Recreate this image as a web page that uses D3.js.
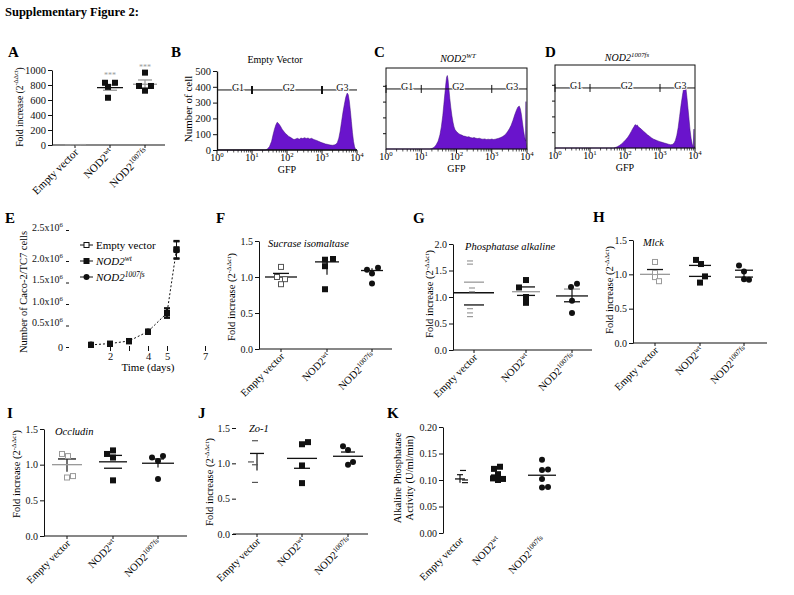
<!DOCTYPE html>
<html><head><meta charset="utf-8">
<script src="https://cdn.jsdelivr.net/npm/d3@7"></script>
<style>body{margin:0;background:#fff;}svg{display:block;}</style>
</head><body>
<svg id="fig" width="794" height="595"></svg>
<script>
// ================= DATA =================
const catBase = ["Empty vector", "NOD2", "NOD2"];
const catSup  = ["", "wt", "1007fs"];

// Panel A (fold increase)
const aTicks = [0, 200, 400, 600, 800, 1000];
const aPts  = [[2, 5, 3, 6], [830, 830, 775, 630], [965, 787, 787, 724]];
const aMean = [4, 765, 810];
const aLo   = [2, 730, 756];
const aHi   = [6, 800, 867];
const aStars = [null, 933, 1044];

// Panels B-D (flow cytometry histograms: [log10 GFP, count])
const flowTicks = [0, 100, 200, 300, 400, 500];
const flowDecades = [0, 1, 2, 3, 4];
const gateNames = ["G1", "G2", "G3"];
const gateLevel = 380;
const histB = [[0,0],[1.38,0],[1.44,6],[1.5,22],[1.56,55],[1.6,95],[1.64,130],[1.68,158],[1.72,176],[1.75,170],[1.78,162],[1.82,148],[1.86,132],[1.9,120],[1.95,106],[2.0,96],[2.05,86],[2.1,80],[2.15,72],[2.2,66],[2.25,70],[2.3,74],[2.35,68],[2.4,76],[2.45,72],[2.5,78],[2.55,73],[2.6,76],[2.65,70],[2.7,74],[2.75,68],[2.8,64],[2.85,60],[2.9,55],[2.95,50],[3.0,46],[3.05,42],[3.1,38],[3.15,36],[3.2,33],[3.25,31],[3.3,30],[3.35,32],[3.4,36],[3.44,48],[3.48,75],[3.52,120],[3.56,180],[3.6,240],[3.64,290],[3.68,335],[3.72,360],[3.75,350],[3.78,310],[3.81,250],[3.84,180],[3.87,110],[3.9,55],[3.93,20],[3.96,4],[4,0]];
const histC = [[0,0],[1.25,0],[1.3,3],[1.36,10],[1.42,25],[1.48,50],[1.53,90],[1.57,140],[1.61,210],[1.64,280],[1.67,350],[1.7,420],[1.72,455],[1.74,465],[1.76,440],[1.78,390],[1.81,320],[1.84,260],[1.87,210],[1.9,170],[1.93,140],[1.96,122],[2.0,110],[2.05,100],[2.1,92],[2.15,88],[2.2,82],[2.25,80],[2.3,76],[2.35,78],[2.4,72],[2.45,70],[2.5,72],[2.55,68],[2.6,66],[2.65,68],[2.7,64],[2.75,62],[2.8,64],[2.85,60],[2.9,62],[2.95,60],[3.0,63],[3.05,60],[3.1,62],[3.15,65],[3.2,68],[3.25,72],[3.3,78],[3.35,85],[3.4,95],[3.45,110],[3.5,128],[3.55,150],[3.6,180],[3.65,215],[3.7,245],[3.74,265],[3.78,272],[3.81,255],[3.84,220],[3.87,170],[3.9,120],[3.93,80],[3.96,50],[3.97,300],[3.98,40],[3.99,10],[4,0]];
const histD = [[0,0],[1.68,0],[1.72,3],[1.78,8],[1.84,16],[1.9,26],[1.96,38],[2.02,52],[2.08,68],[2.13,85],[2.18,105],[2.22,122],[2.26,136],[2.29,148],[2.32,142],[2.35,146],[2.38,134],[2.42,128],[2.47,118],[2.52,108],[2.58,96],[2.64,84],[2.7,74],[2.76,64],[2.82,56],[2.88,50],[2.94,45],[3.0,40],[3.06,36],[3.12,32],[3.18,28],[3.24,24],[3.3,21],[3.35,22],[3.4,30],[3.44,48],[3.48,80],[3.52,130],[3.56,200],[3.6,270],[3.64,330],[3.68,385],[3.71,410],[3.74,380],[3.77,320],[3.8,250],[3.83,180],[3.86,110],[3.89,60],[3.92,25],[3.95,8],[3.97,120],[3.98,15],[4,0]];

// Panel E (growth, x10^6 cells)
const eDays  = [1, 2, 3, 4, 5, 5.5];
const eEmpty = [0.05, 0.07, 0.13, 0.35, 0.78, 2.18];
const eWT    = [0.05, 0.08, 0.14, 0.36, 0.79, 2.19];
const eFS    = [0.06, 0.07, 0.14, 0.36, 0.80, 2.17];
const eErr   = [0.02, 0.02, 0.03, 0.03, 0.11, 0.14];
const eTicks = [0, 0.5, 1.0, 1.5, 2.0, 2.5];
const eDayTicks  = [2, 3, 4, 5, 7];
const eDayLabels = [2, 4, 5, 7];
const eLegend = [["Empty vector", ""], ["NOD2", "wt"], ["NOD2", "1007fs"]];

// Panel F  Sucrase isomaltase
const foldTicks = [0, 0.5, 1.0, 1.5];
const fPts  = [[1.14, 1.0, 0.97, 0.9], [1.24, 1.25, 1.15, 0.83], [1.10, 1.13, 1.05, 0.91]];
const fMean = [1.0, 1.21, 1.09];
const fLo   = [0.96, 1.03, 1.04];
const fHi   = [1.05, 1.21, 1.12];
// Panel G  Phosphatase alkaline
const gTicks = [0, 0.5, 1.0, 1.5, 2.0];
const gPts  = [[1.68, 1.62, 1.17, 1.1, 0.78, 0.7, 0.63], [1.18, 1.32, 1.0, 0.89], [1.19, 1.25, 0.93, 0.7]];
const gMean = [1.08, 1.1, 1.02];
const gLo   = [0.85, 1.03, 0.91];
const gHi   = [1.28, 1.19, 1.15];
// Panel H  Mlck
const hPts  = [[1.18, 1.02, 0.96, 0.9], [1.21, 1.15, 0.97, 0.88], [1.13, 1.04, 0.93, 0.92]];
const hMean = [1.0, 1.13, 1.06];
const hLo   = [0.93, 0.97, 0.96];
const hHi   = [1.07, 1.13, 1.06];
// Panel I  Occludin
const iPts  = [[1.15, 1.12, 0.82, 0.84], [1.2, 1.15, 1.1, 0.78], [1.1, 1.12, 1.05, 0.8]];
const iMean = [1.0, 1.04, 1.02];
const iLo   = [0.9, 0.95, 0.96];
const iHi   = [1.08, 1.13, 1.08];
// Panel J  Zo-1
const jPts  = [[1.32, 1.02, 0.98, 0.73], [1.27, 1.3, 0.97, 0.72], [1.24, 1.19, 1.02, 0.98]];
const jMean = [1.14, 1.07, 1.1];
const jLo   = [0.9, 0.93, 1.1];
const jHi   = [1.14, 1.07, 1.16];
// Panel K  Alkaline phosphatase activity
const kTicks = [0, 0.05, 0.10, 0.15, 0.20];
const kPts  = [[0.118, 0.11, 0.1, 0.095], [0.121, 0.125, 0.105, 0.111, 0.102, 0.1, 0.103], [0.138, 0.119, 0.12, 0.102, 0.086, 0.087]];
const kMean = [0.102, 0.11, 0.109];
const kLo   = [0.095, 0.1, 0.1];
const kHi   = [0.11, 0.12, 0.12];

// ================= DRAWING =================
const svg = d3.select("#fig");
const FONT = "'Liberation Serif','Times New Roman',serif";
const INK = "#111", GRAY = "#9a9a9a", DGRAY = "#555", PURPLE = "#6a14cc";
svg.attr("font-family", FONT);

function rich(sel, parts, fs) {
  let cur = 0;
  parts.forEach(p => {
    const target = p.sup ? -fs * 0.38 : 0;
    const ts = sel.append("tspan").attr("dy", target - cur).text(p.t);
    if (p.sup) ts.attr("font-size", fs * 0.68);
    if (p.it) ts.attr("font-style", "italic");
    cur = target;
  });
}
function catParts(i, it) {
  const parts = [{t: catBase[i], it: it && i > 0}];
  if (catSup[i]) parts.push({t: catSup[i], sup: true, it: it});
  return parts;
}
const foldParts = [{t: "Fold increase (2"}, {t: "-ΔΔct", sup: true}, {t: ")"}];

// Title + panel letters
svg.append("text").attr("x", 5).attr("y", 16).attr("font-size", 12.5).attr("font-weight", "bold").text("Supplementary Figure 2:");
const letters = [["A",8,57],["B",171,57],["C",374,57],["D",545,57],["E",5,223],["F",216,223],["G",413,223],["H",593,222],["I",7,418],["J",198,418],["K",387,418]];
svg.selectAll(".plet").data(letters).join("text").attr("class","plet")
  .attr("x", d => d[1]).attr("y", d => d[2]).attr("font-size", 15).attr("font-weight", "bold").text(d => d[0]);

function yLabel(x, cy, parts, fs) {
  const t = svg.append("text").attr("transform", `translate(${x},${cy}) rotate(-90)`)
    .attr("text-anchor", "middle").attr("font-size", fs).attr("dominant-baseline", "middle");
  rich(t, parts, fs);
}

function marker(g, type, x, y, col) {
  if (type === "sq") g.append("rect").attr("x", x - 3).attr("y", y - 3).attr("width", 6).attr("height", 6).attr("fill", col);
  else if (type === "osq") g.append("rect").attr("x", x - 2.5).attr("y", y - 2.5).attr("width", 5).attr("height", 5).attr("fill", "#fff").attr("stroke", col).attr("stroke-width", 1);
  else if (type === "dot") g.append("circle").attr("cx", x).attr("cy", y).attr("r", 3).attr("fill", col);
  else if (type === "dash") g.append("line").attr("x1", x - 3).attr("x2", x + 3).attr("y1", y).attr("y2", y).attr("stroke", col).attr("stroke-width", 1.2);
}
function hline(g, cx, y, w, col) {
  if (w > 0) g.append("line").attr("x1", cx - w / 2).attr("x2", cx + w / 2).attr("y1", y).attr("y2", y).attr("stroke", col).attr("stroke-width", 1.3);
}

function dotPanel(p) {
  const g = svg.append("g");
  const y = d3.scaleLinear().domain([0, p.max]).range([p.yBot, p.yTop]);
  const ax = d3.axisLeft(y).tickValues(p.ticks).tickFormat(p.fmt).tickSizeInner(p.tick || 4).tickSizeOuter(0).tickPadding(p.pad || 2);
  const ga = g.append("g").attr("transform", `translate(${p.x0},0)`).call(ax)
    .attr("font-family", FONT).attr("font-size", p.fs || 10);
  ga.selectAll("line").attr("stroke", INK);
  ga.selectAll("text").attr("fill", INK);
  if (p.noYLine) ga.select(".domain").remove(); else ga.select(".domain").attr("stroke", INK);
  if (p.xLine) {
    g.append("line").attr("x1", p.xStart || p.x0).attr("x2", p.x1).attr("y1", p.yBot).attr("y2", p.yBot).attr("stroke", INK).attr("stroke-width", 1.2);
    p.cats.forEach(cx => g.append("line").attr("x1", cx).attr("x2", cx).attr("y1", p.yBot).attr("y2", p.yBot + 3).attr("stroke", INK));
  }
  p.cats.forEach((cx, i) => {
    const t = g.append("text").attr("transform", `translate(${cx + 4},${p.yBot + 8}) rotate(-45)`)
      .attr("text-anchor", "end").attr("font-size", p.lfs || 10.5);
    rich(t, catParts(i, false), p.lfs || 10.5);
  });
  p.cats.forEach((cx, i) => {
    const s = p.sty[i];
    if (s.vl) g.append("line").attr("x1", cx).attr("x2", cx).attr("y1", y(p.lo[i])).attr("y2", y(p.hi[i])).attr("stroke", s.vlc || INK).attr("stroke-width", 1.2);
    hline(g, cx, y(p.mean[i]), s.mW, s.mC || INK);
    (s.caps || []).forEach(c => hline(g, cx, y(c[0] === "lo" ? p.lo[i] : p.hi[i]), c[1], c[2]));
    p.pts[i].forEach((v, k) => marker(g, s.mk, cx + (s.jit[k] || 0), y(v), s.col));
  });
  if (p.stars) p.stars.forEach((v, i) => {
    if (v != null) g.append("text").attr("x", p.cats[i]).attr("y", y(v) + 3).attr("text-anchor", "middle").attr("font-size", 8).attr("fill", GRAY).text("***");
  });
  if (p.title) g.append("text").attr("x", p.tx).attr("y", p.ty).attr("font-size", 10.5).attr("font-style", "italic").text(p.title);
  return y;
}

// ---------- Panel A ----------
dotPanel({x0: 52, x1: 165, yTop: 70, yBot: 145, max: 1000, ticks: aTicks, fmt: d3.format("d"), fs: 10.5, lfs: 11,
  cats: [75, 110, 145], xLine: true, pts: aPts, mean: aMean, lo: aLo, hi: aHi, stars: aStars,
  sty: [
    {mk: "dash", col: GRAY, jit: [-7, -2, 3, 8], mW: 0},
    {mk: "sq", col: INK, jit: [-5, 5, -2, -2], mW: 26, mC: INK, vl: true, caps: [["hi", 14, GRAY], ["lo", 14, GRAY]]},
    {mk: "sq", col: INK, jit: [0, -6, 6, 0], mW: 24, mC: GRAY, vl: true, vlc: GRAY, caps: [["hi", 14, GRAY], ["lo", 14, INK]]}
  ]});
yLabel(21, 107, foldParts, 9.5);

// ---------- Panels B-D ----------
function flowPanel(p) {
  const g = svg.append("g");
  const x = d3.scaleLinear().domain([0, 4]).range([p.x0, p.x1]);
  const y = d3.scaleLinear().domain([0, 500]).range([p.yb, p.yb - 79]);
  g.append("path").datum(p.hist)
    .attr("d", d3.area().x(d => x(d[0])).y0(p.yb).y1(d => y(d[1])))
    .attr("fill", PURPLE).attr("stroke", "#3c0a7a").attr("stroke-width", 0.5);
  if (p.box) {
    g.append("rect").attr("x", p.x0).attr("y", p.top).attr("width", p.x1 - p.x0).attr("height", p.yb - p.top)
      .attr("fill", "none").attr("stroke", INK).attr("stroke-width", 1);
    const la = g.append("g").attr("transform", `translate(${p.x0},0)`)
      .call(d3.axisLeft(y).tickValues([100, 200, 300, 400]).tickSize(3).tickFormat(""));
    la.select(".domain").remove();
    la.selectAll("line").attr("stroke", INK);
  } else {
    const la = g.append("g").attr("transform", `translate(${p.x0},0)`)
      .call(d3.axisLeft(y).tickValues(flowTicks).tickSizeInner(4).tickSizeOuter(0).tickPadding(2))
      .attr("font-family", FONT).attr("font-size", 10.5);
    la.select(".domain").attr("stroke", INK).attr("stroke-width", 1.3);
    la.selectAll("line").attr("stroke", INK);
    la.selectAll("text").attr("fill", INK);
    g.append("line").attr("x1", p.x0).attr("x2", p.x1).attr("y1", p.yb).attr("y2", p.yb).attr("stroke", INK).attr("stroke-width", 1.3);
  }
  // log ticks
  flowDecades.forEach(d => {
    g.append("line").attr("x1", x(d)).attr("x2", x(d)).attr("y1", p.yb).attr("y2", p.yb + 4).attr("stroke", INK);
    const t = g.append("text").attr("x", x(d)).attr("y", p.yb + 11).attr("text-anchor", "middle").attr("font-size", 10);
    rich(t, [{t: "10"}, {t: String(d), sup: true}], 10);
    if (d < 4) d3.range(2, 10).forEach(k => {
      const xx = x(d + Math.log10(k));
      g.append("line").attr("x1", xx).attr("x2", xx).attr("y1", p.yb).attr("y2", p.yb + 2.5).attr("stroke", INK).attr("stroke-width", 0.7);
    });
  });
  g.append("text").attr("x", (p.x0 + p.x1) / 2).attr("y", p.yb + 23).attr("text-anchor", "middle").attr("font-size", 10).text("GFP");
  // gates
  const gy = y(gateLevel);
  g.append("line").attr("x1", p.x0).attr("x2", p.x1).attr("y1", gy).attr("y2", gy).attr("stroke", INK).attr("stroke-width", 1);
  p.gates.forEach(v => g.append("line").attr("x1", x(v)).attr("x2", x(v)).attr("y1", gy - 4).attr("y2", gy + 4)
    .attr("stroke", INK).attr("stroke-width", p.box ? 1 : 2));
  [0.6, 2.05, 3.58].forEach((v, i) => g.append("text").attr("x", x(v)).attr("y", gy + 1).attr("text-anchor", "middle")
    .attr("font-size", 10).attr("stroke", "#fff").attr("stroke-width", 2).attr("paint-order", "stroke").attr("fill", INK).text(gateNames[i]));
  const tt = g.append("text").attr("x", p.tcx).attr("y", p.ty).attr("text-anchor", "middle").attr("font-size", 10);
  rich(tt, p.titleParts, 10);
}
flowPanel({x0: 217, x1: 357, yb: 150, box: false, hist: histB, gates: [1, 3], tcx: 275, ty: 63,
  titleParts: [{t: "Empty Vector"}]});
flowPanel({x0: 386, x1: 527, yb: 149, top: 68, box: true, hist: histC, gates: [0, 1, 3], tcx: 458, ty: 62,
  titleParts: [{t: "NOD2", it: true}, {t: "WT", sup: true, it: true}]});
flowPanel({x0: 555, x1: 695, yb: 148, top: 65, box: true, hist: histD, gates: [0, 1, 3], tcx: 627, ty: 61,
  titleParts: [{t: "NOD2", it: true}, {t: "1007fs", sup: true, it: true}]});
yLabel(189, 109, [{t: "Number of cell"}], 11);

// ---------- Panel E ----------
(function () {
  const g = svg.append("g");
  const x = d3.scaleLinear().domain([0, 7]).range([72, 205]);
  const y = d3.scaleLinear().domain([0, 2, 2.5]).range([347, 261, 230]);
  const ya = g.append("g").attr("transform", "translate(69,0)")
    .call(d3.axisLeft(y).tickValues(eTicks).tickSize(3).tickPadding(3))
    .attr("font-family", FONT).attr("font-size", 10);
  ya.select(".domain").remove();
  ya.selectAll("line").attr("stroke", INK);
  ya.selectAll(".tick text").attr("fill", INK).each(function (d) {
    const t = d3.select(this); t.text(null);
    if (d === 0) t.text("0");
    else rich(t, [{t: d.toFixed(1) + "x10"}, {t: "6", sup: true}], 10);
  });
  const xa = g.append("g").attr("transform", "translate(0,346)")
    .call(d3.axisBottom(x).tickValues(eDayTicks).tickSize(5).tickPadding(2).tickFormat(d => eDayLabels.includes(d) ? d : ""))
    .attr("font-family", FONT).attr("font-size", 10.5);
  xa.select(".domain").remove();
  xa.selectAll("line").attr("stroke", INK);
  xa.selectAll("text").attr("fill", INK);
  g.append("text").attr("x", 148).attr("y", 371).attr("text-anchor", "middle").attr("font-size", 11).text("Time (days)");
  // line
  g.append("path").datum(eDays.map((d, i) => [d, eWT[i]]))
    .attr("d", d3.line().x(d => x(d[0])).y(d => y(d[1])))
    .attr("fill", "none").attr("stroke", INK).attr("stroke-width", 1).attr("stroke-dasharray", "2,2");
  const series = [[eEmpty, "osq"], [eFS, "dot"], [eWT, "sq"]];
  series.forEach(([vals, mk]) => {
    vals.forEach((v, i) => {
      const cx = x(eDays[i]);
      g.append("line").attr("x1", cx).attr("x2", cx).attr("y1", y(v - eErr[i])).attr("y2", y(v + eErr[i])).attr("stroke", INK);
      hline(g, cx, y(v + eErr[i]), 6, INK);
      hline(g, cx, y(v - eErr[i]), 6, INK);
      marker(g, mk, cx, y(v), INK);
    });
  });
  // legend
  const ly = [245, 261, 277], mks = ["osq", "sq", "dot"];
  eLegend.forEach((l, i) => {
    g.append("line").attr("x1", 80).attr("x2", 93).attr("y1", ly[i]).attr("y2", ly[i]).attr("stroke", INK);
    marker(g, mks[i], 86.5, ly[i], INK);
    const t = g.append("text").attr("x", 96).attr("y", ly[i] + 4).attr("font-size", 11);
    const parts = [{t: l[0], it: i > 0}];
    if (l[1]) parts.push({t: l[1], sup: true, it: true});
    rich(t, parts, 11);
  });
})();
yLabel(25, 292, [{t: "Number of Caco-2/TC7 cells"}], 10.5);

// ---------- Panel F ----------
const f1 = d3.format(".1f");
dotPanel({x0: 259, x1: 392, yTop: 241, yBot: 349, max: 1.5, ticks: foldTicks, fmt: f1, cats: [281, 327, 372], xLine: true,
  pts: fPts, mean: fMean, lo: fLo, hi: fHi, title: "Sucrase isomaltase", tx: 268, ty: 247,
  sty: [
    {mk: "osq", col: DGRAY, jit: [0, -4, 4, 0], mW: 32, caps: [["hi", 16, INK]]},
    {mk: "sq", col: INK, jit: [-2, 6, -2, -2], mW: 24, vl: true},
    {mk: "dot", col: INK, jit: [-5, 6, 0, 0], mW: 22, vl: true}
  ]});
yLabel(233, 297, foldParts, 10.5);

// ---------- Panel G ----------
dotPanel({x0: 453, x1: 592, yTop: 244, yBot: 350, max: 2.0, ticks: gTicks, fmt: f1, cats: [474, 526, 572], xLine: true,
  pts: gPts, mean: gMean, lo: gLo, hi: gHi, title: "Phosphatase alkaline", tx: 465, ty: 250,
  sty: [
    {mk: "dash", col: GRAY, jit: [-4, -4, -2, -2, -4, -4, -4], mW: 40, caps: [["hi", 20, GRAY], ["lo", 20, INK]]},
    {mk: "sq", col: INK, jit: [-7, 0, 0, 0], mW: 28, mC: GRAY, caps: [["hi", 18, INK], ["lo", 18, INK]]},
    {mk: "dot", col: INK, jit: [-1, 5, 0, 0], mW: 32, vl: true, caps: [["hi", 16, GRAY], ["lo", 16, INK]]}
  ]});
yLabel(431, 294, foldParts, 10.5);

// ---------- Panel H ----------
dotPanel({x0: 633, x1: 767, yTop: 240, yBot: 343, max: 1.5, ticks: foldTicks, fmt: f1, cats: [655, 700, 744], xLine: true,
  pts: hPts, mean: hMean, lo: hLo, hi: hHi, title: "Mlck", tx: 643, ty: 246,
  sty: [
    {mk: "osq", col: GRAY, jit: [0, 0, 0, 4], mW: 30, mC: GRAY, vl: true, caps: [["hi", 16, INK]]},
    {mk: "sq", col: INK, jit: [-4, 1, 5, 0], mW: 22, caps: [["lo", 22, INK]]},
    {mk: "dot", col: INK, jit: [-5, 0, 0, 5], mW: 18, vl: true, caps: [["lo", 18, INK]]}
  ]});
yLabel(611, 290, foldParts, 10.5);

// ---------- Panel I ----------
dotPanel({x0: 44, x1: 187, yTop: 429, yBot: 536, max: 1.5, ticks: foldTicks, fmt: f1, cats: [67, 113, 158], xLine: true,
  pts: iPts, mean: iMean, lo: iLo, hi: iHi, title: "Occludin", tx: 55, ty: 435,
  sty: [
    {mk: "osq", col: GRAY, jit: [-5, 1, 0, 6], mW: 30, mC: GRAY, vl: true, caps: [["hi", 18, INK]]},
    {mk: "sq", col: INK, jit: [0, -6, 0, 0], mW: 28, caps: [["hi", 18, INK], ["lo", 18, INK]]},
    {mk: "dot", col: INK, jit: [-6, 5, 0, 0], mW: 32, vl: true, caps: [["hi", 12, INK]]}
  ]});
yLabel(18, 474, foldParts, 10.5);

// ---------- Panel J ----------
dotPanel({x0: 236, x1: 368, xStart: 233, yTop: 428, yBot: 534, max: 1.5, ticks: foldTicks, fmt: f1, cats: [257, 302, 348],
  xLine: true, noYLine: true, tick: 4, pad: 2,
  pts: jPts, mean: jMean, lo: jLo, hi: jHi, title: "Zo-1", tx: 249, ty: 432,
  sty: [
    {mk: "dash", col: DGRAY, jit: [-2, -6, -2, -2], mW: 14, vl: true},
    {mk: "sq", col: INK, jit: [0, 6, 0, 0], mW: 30, caps: [["lo", 16, INK]]},
    {mk: "dot", col: INK, jit: [-5, 0, 5, 0], mW: 30, caps: [["hi", 14, INK]]}
  ]});
yLabel(211, 482, foldParts, 10.5);

// ---------- Panel K ----------
dotPanel({x0: 443, x1: 560, yTop: 427, yBot: 533, max: 0.2, ticks: kTicks, fmt: d3.format(".2f"), cats: [460, 497, 542],
  xLine: false, pts: kPts, mean: kMean, lo: kLo, hi: kHi,
  sty: [
    {mk: "dash", col: INK, jit: [3, 0, 5, 5], mW: 10, vl: true},
    {mk: "sq", col: INK, jit: [-3, 3, -3, 1, 6, 1, -4], mW: 0},
    {mk: "dot", col: INK, jit: [0, 0, 6, 0, 0, 6], mW: 28}
  ]});
yLabel(399, 478, [{t: "Alkaline Phosphatase"}], 10.5);
yLabel(411, 478, [{t: "Activity (U/ml/min)"}], 10.5);
</script>
</body></html>
